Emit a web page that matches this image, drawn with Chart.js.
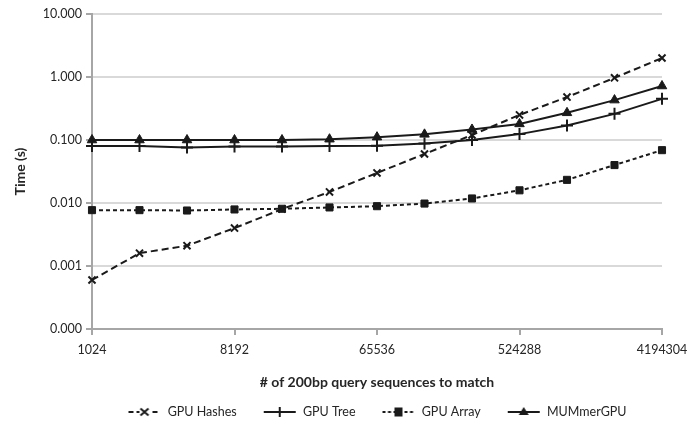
<!DOCTYPE html>
<html>
<head>
<meta charset="utf-8">
<script src="https://cdn.jsdelivr.net/npm/chart.js@4/dist/chart.umd.min.js"></script>
<style>
html,body{margin:0;padding:0;background:#fff;}
#wrap{width:689px;height:423px;position:relative;}
</style>
</head>
<body>
<div id="wrap"><canvas id="c" width="689" height="423"></canvas></div>
<script>
const categories = ['1024','2048','4096','8192','16384','32768','65536','131072','262144','524288','1048576','2097152','4194304'];
const gpuHashes = [0.0006, 0.0016, 0.0021, 0.0040, 0.0080, 0.015, 0.030, 0.060, 0.12, 0.25, 0.48, 0.97, 2.0];
const gpuTree   = [0.080, 0.080, 0.076, 0.079, 0.079, 0.080, 0.081, 0.088, 0.100, 0.124, 0.17, 0.26, 0.45];
const gpuArray  = [0.0077, 0.0077, 0.0076, 0.0079, 0.0081, 0.0085, 0.0089, 0.0098, 0.0118, 0.0159, 0.0233, 0.040, 0.069];
const mummerGPU = [0.100, 0.100, 0.100, 0.100, 0.100, 0.103, 0.111, 0.123, 0.147, 0.18, 0.27, 0.43, 0.72];
const yTicks = [0.0001, 0.001, 0.01, 0.1, 1, 10];

const INK = '#1a1a1a';
const TXT = '#262626';
const AXIS = '#a6a6a6';
const FONT = 'Lato, "Open Sans", "Liberation Sans", sans-serif';

function legendIcon(dash, marker) {
  const w = 34;
  const c = document.createElement('canvas');
  c.width = w; c.height = 12;
  const g = c.getContext('2d');
  g.strokeStyle = INK; g.fillStyle = INK; g.lineWidth = 2;
  g.setLineDash(dash);
  g.beginPath(); g.moveTo(1, 6); g.lineTo(w - 1, 6); g.stroke();
  g.setLineDash([]);
  const cx = w / 2, cy = 6;
  if (marker === 'x') {
    g.clearRect(cx - 5, 0, 10, 12);
    g.beginPath(); g.moveTo(cx-4, cy-3.5); g.lineTo(cx+4, cy+3.5); g.moveTo(cx+4, cy-3.5); g.lineTo(cx-4, cy+3.5); g.stroke();
  } else if (marker === '+') {
    g.beginPath(); g.moveTo(cx, cy-5); g.lineTo(cx, cy+5); g.stroke();
  } else if (marker === 'sq') {
    g.fillRect(cx-4, cy-4.5, 8, 9);
  } else if (marker === 'tri') {
    g.beginPath(); g.moveTo(cx, cy-5); g.lineTo(cx+5, cy+3); g.lineTo(cx-5, cy+3); g.closePath(); g.fill();
  }
  return c;
}

const icons = [
  legendIcon([5, 3], 'x'),
  legendIcon([], '+'),
  legendIcon([3, 2.5], 'sq'),
  legendIcon([], 'tri')
];

const common = {borderColor: INK, backgroundColor: INK, pointBorderColor: INK, pointBackgroundColor: INK, borderWidth: 2, tension: 0};

new Chart(document.getElementById('c'), {
  type: 'line',
  data: {
    labels: categories,
    datasets: [
      Object.assign({label: 'GPU Hashes', data: gpuHashes, borderDash: [7, 4], pointStyle: 'crossRot', pointRadius: 5, pointBorderWidth: 2}, common),
      Object.assign({label: 'GPU Tree', data: gpuTree, pointStyle: 'cross', pointRadius: 6, pointBorderWidth: 2}, common),
      Object.assign({label: 'GPU Array', data: gpuArray, borderDash: [4, 3], pointStyle: 'rect', pointRadius: 5, pointBorderWidth: 1}, common),
      Object.assign({label: 'MUMmerGPU', data: mummerGPU, pointStyle: 'triangle', pointRadius: 5.5, pointBorderWidth: 1}, common)
    ]
  },
  options: {
    responsive: false,
    animation: false,
    layout: {padding: {left: 0, right: 27, top: 14, bottom: 0}},
    plugins: {
      tooltip: {enabled: false},
      legend: {
        position: 'bottom',
        fullSize: false,
        maxHeight: 43.25,
        labels: {
          usePointStyle: true,
          pointStyleWidth: 34,
          boxWidth: 34,
          boxHeight: 12,
          padding: 26,
          color: TXT,
          font: {family: FONT, size: 12.5},
          generateLabels: (chart) => chart.data.datasets.map((ds, i) => ({
            text: ds.label, pointStyle: icons[i], fillStyle: INK, strokeStyle: INK, lineWidth: 0, hidden: false, datasetIndex: i, fontColor: TXT
          }))
        }
      }
    },
    scales: {
      x: {
        type: 'category',
        offset: false,
        afterFit: (scale) => { scale.height = 50.75; scale.paddingLeft = 0; scale.paddingRight = 0; },
        grid: {
          drawOnChartArea: false,
          drawTicks: true,
          tickLength: 6,
          tickColor: (ctx) => (ctx.index % 3 === 0 ? AXIS : 'rgba(0,0,0,0)'),
          lineWidth: 2
        },
        border: {color: AXIS, width: 2},
        ticks: {
          autoSkip: false,
          maxRotation: 0,
          color: TXT,
          font: {family: FONT, size: 12.5},
          padding: 7,
          callback: function (v, i) { return i % 3 === 0 ? this.getLabelForValue(v) : ''; }
        },
        title: {display: true, text: '# of 200bp query sequences to match', color: TXT, font: {family: FONT, size: 14, weight: 'bold'}, padding: {top: 0, bottom: -10.65}}
      },
      y: {
        type: 'logarithmic',
        min: 0.0001,
        max: 10,
        afterBuildTicks: (scale) => { scale.ticks = yTicks.map(v => ({value: v})); },
        afterFit: (scale) => { scale.width = 92; },
        grid: {
          color: '#d9d9d9',
          lineWidth: 2,
          drawTicks: true,
          tickLength: 6,
          tickColor: AXIS
        },
        border: {color: AXIS, width: 2},
        ticks: {
          color: TXT,
          font: {family: FONT, size: 12.5},
          padding: 4,
          callback: (v) => Number(v).toFixed(3)
        },
        title: {display: true, text: 'Time (s)', color: TXT, font: {family: FONT, size: 14, weight: 'bold'}, padding: {top: 12, bottom: 0}}
      }
    }
  }
});
</script>
</body>
</html>
